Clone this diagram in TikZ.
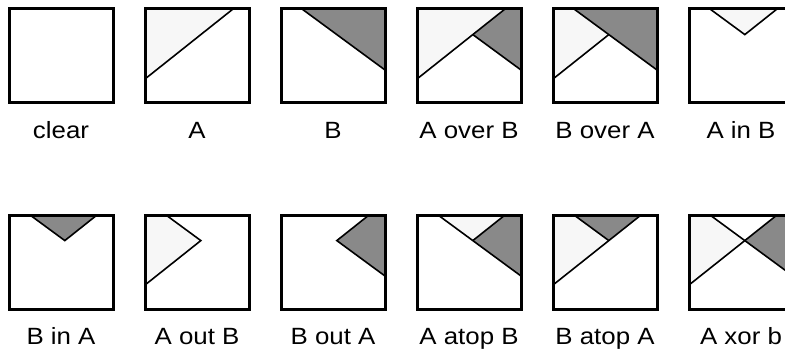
\documentclass[tikz,border=0pt]{standalone}
\usepackage{fontspec}
\setmainfont{Liberation Sans}
\definecolor{alight}{RGB}{247,247,247}
\definecolor{bdark}{RGB}{137,137,137}
\tikzset{
  frame/.style={draw=black, line width=3pt, line join=miter},
  edgeline/.style={draw=black, line width=1.6pt},
  afill/.style={fill=alight},
  bfill/.style={fill=bdark},
  lbl/.style={anchor=base, inner sep=0pt, font=\fontsize{23.5}{28}\selectfont}
}
\newcommand\pdsetup{%
  \coordinate (TL) at (0,0); \coordinate (TR) at (104,0);
  \coordinate (BL) at (0,94); \coordinate (BR) at (104,94);
  \coordinate (a1) at (0,70); \coordinate (a2) at (88,0);
  \coordinate (b1) at (21,0); \coordinate (b2) at (104,61);
  \coordinate (X) at (intersection of a1--a2 and b1--b2);}
\newcommand\pdframe[1]{%
  \draw[frame] (TL) rectangle (BR);
  \node[lbl] (lab) at (52,129) {\scalebox{1.1}[1]{#1}};}
\begin{document}
\begin{tikzpicture}[x=1pt,y=-1pt]
\useasboundingbox (0,0) rectangle (785,353);
\clip (0,0) rectangle (785,353);
\fill[white] (0,0) rectangle (785,353);
% row 1
\begin{scope}[shift={(9,9)}]\pdsetup
  \pdframe{clear}
\end{scope}
\begin{scope}[shift={(145,9)}]\pdsetup
  \path[afill] (TL) -- (a2) -- (a1) -- cycle;
  \draw[edgeline] (a1) -- (a2);
  \pdframe{A}
\end{scope}
\begin{scope}[shift={(281,9)}]\pdsetup
  \path[bfill] (b1) -- (TR) -- (b2) -- cycle;
  \draw[edgeline] (b1) -- (b2);
  \pdframe{B}
\end{scope}
\begin{scope}[shift={(417,9)}]\pdsetup
  \path[bfill] (a2) -- (TR) -- (b2) -- (X) -- cycle;
  \path[afill] (TL) -- (a2) -- (a1) -- cycle;
  \draw[edgeline] (a1) -- (a2);
  \draw[edgeline] (b2) -- (X);
  \pdframe{A over B}
\end{scope}
\begin{scope}[shift={(553,9)}]\pdsetup
  \path[afill] (TL) -- (b1) -- (X) -- (a1) -- cycle;
  \path[bfill] (b1) -- (TR) -- (b2) -- cycle;
  \draw[edgeline] (b1) -- (b2);
  \draw[edgeline] (a1) -- (X);
  \pdframe{B over A}
\end{scope}
\begin{scope}[shift={(689,9)}]\pdsetup
  \path[afill] (b1) -- (a2) -- (X) -- cycle;
  \draw[edgeline] (b1) -- (X) -- (a2);
  \pdframe{A in B}
\end{scope}
% row 2
\begin{scope}[shift={(9,215)}]\pdsetup
  \path[bfill] (b1) -- (a2) -- (X) -- cycle;
  \draw[edgeline] (b1) -- (X) -- (a2);
  \pdframe{B in A}
\end{scope}
\begin{scope}[shift={(145,215)}]\pdsetup
  \path[afill] (TL) -- (b1) -- (X) -- (a1) -- cycle;
  \draw[edgeline] (b1) -- (X) -- (a1);
  \pdframe{A out B}
\end{scope}
\begin{scope}[shift={(281,215)}]\pdsetup
  \path[bfill] (a2) -- (TR) -- (b2) -- (X) -- cycle;
  \draw[edgeline] (a2) -- (X) -- (b2);
  \pdframe{B out A}
\end{scope}
\begin{scope}[shift={(417,215)}]\pdsetup
  \path[afill] (b1) -- (a2) -- (X) -- cycle;
  \path[bfill] (a2) -- (TR) -- (b2) -- (X) -- cycle;
  \draw[edgeline] (b1) -- (b2);
  \draw[edgeline] (X) -- (a2);
  \pdframe{A atop B}
\end{scope}
\begin{scope}[shift={(553,215)}]\pdsetup
  \path[bfill] (b1) -- (a2) -- (X) -- cycle;
  \path[afill] (TL) -- (b1) -- (X) -- (a1) -- cycle;
  \draw[edgeline] (a1) -- (a2);
  \draw[edgeline] (b1) -- (X);
  \pdframe{B atop A}
\end{scope}
\begin{scope}[shift={(689,215)}]\pdsetup
  \path[afill] (TL) -- (b1) -- (X) -- (a1) -- cycle;
  \path[bfill] (a2) -- (TR) -- (b2) -- (X) -- cycle;
  \draw[edgeline] (a1) -- (a2);
  \draw[edgeline] (b1) -- (b2);
  \pdframe{A xor b}
\end{scope}
\end{tikzpicture}
\end{document}
